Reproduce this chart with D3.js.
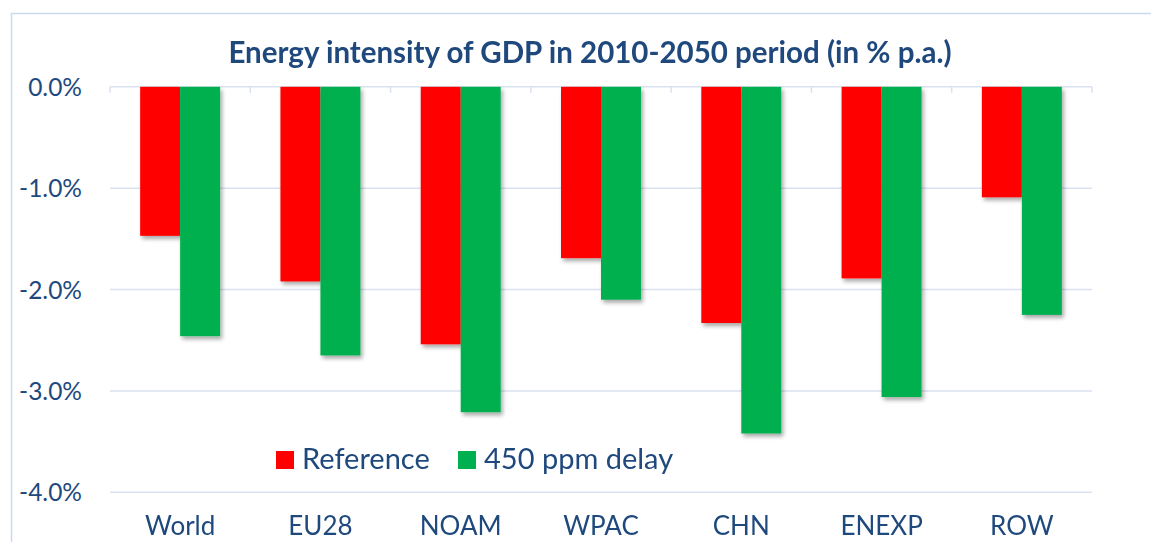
<!DOCTYPE html>
<html>
<head>
<meta charset="utf-8">
<script src="https://cdn.jsdelivr.net/npm/d3@7"></script>
<style>
  html, body { margin: 0; padding: 0; background: #ffffff; }
  svg { display: block; }
  text { font-family: Lato, "Open Sans", sans-serif; }
</style>
</head>
<body>
<svg id="chart" width="1151" height="542"></svg>
<script>
// Regions and annual change in energy intensity of GDP, 2010-2050 (% p.a.)
const categories = ["World", "EU28", "NOAM", "WPAC", "CHN", "ENEXP", "ROW"];
const seriesNames = ["Reference", "450 ppm delay"];
const referenceValues = [-1.47, -1.92, -2.54, -1.69, -2.33, -1.89, -1.09];
const delayValues = [-2.46, -2.65, -3.21, -2.10, -3.42, -3.06, -2.25];
const yTicks = [0, -1, -2, -3, -4];
const titleText = "Energy intensity of GDP in 2010-2050 period (in % p.a.)";

const colors = { "Reference": "#ff0000", "450 ppm delay": "#00b050" };
const textColor = "#1f497d";
const gridColor = "#d9e2f0";

const svg = d3.select("#chart");
const W = 1151, H = 542;

// chart frame
svg.append("rect")
  .attr("x", 11.5).attr("y", 13.5)
  .attr("width", W + 10).attr("height", H + 10)
  .attr("fill", "#ffffff")
  .attr("stroke", "#c9daf0").attr("stroke-width", 1.5);

// soft shadow under the bars
const defs = svg.append("defs");
const f = defs.append("filter").attr("id", "barShadow")
  .attr("x", "-20%").attr("y", "-10%").attr("width", "150%").attr("height", "130%");
f.append("feGaussianBlur").attr("in", "SourceAlpha").attr("stdDeviation", 2);
f.append("feOffset").attr("dx", 2).attr("dy", 3).attr("result", "off");
f.append("feComponentTransfer").append("feFuncA").attr("type", "linear").attr("slope", 0.35);
const m = f.append("feMerge");
m.append("feMergeNode");
m.append("feMergeNode").attr("in", "SourceGraphic");

const plot = { left: 110, right: 1092, top: 86.8, bottom: 492.3 };

const x = d3.scaleBand()
  .domain(categories)
  .range([plot.left, plot.right])
  .paddingInner(0.43)
  .paddingOuter(0.215);

const xInner = d3.scaleBand()
  .domain(seriesNames)
  .range([0, x.bandwidth()]);

const y = d3.scaleLinear()
  .domain([0, -4])
  .range([plot.top, plot.bottom]);

// horizontal gridlines
svg.append("g")
  .selectAll("line")
  .data(yTicks)
  .join("line")
  .attr("x1", plot.left).attr("x2", plot.right)
  .attr("y1", d => y(d)).attr("y2", d => y(d))
  .attr("stroke", gridColor).attr("stroke-width", 1.5);

// y axis labels (plain hyphen for the sign)
const yAxis = d3.axisLeft(y)
  .tickValues(yTicks)
  .tickSize(0)
  .tickPadding(28)
  .tickFormat(d => d3.format(".1f")(d).replace("\u2212", "-") + "%");
const yg = svg.append("g").attr("transform", `translate(${plot.left},0)`).call(yAxis);
yg.select(".domain").remove();
yg.selectAll("text")
  .attr("fill", textColor)
  .style("font-size", "24.5px")
  .attr("dy", "0.35em");

// category axis at zero with boundary tick marks
const boundaries = categories.map(c => x(c) - x.step() * x.paddingInner() / 2)
  .concat([plot.right]);
svg.append("g")
  .selectAll("line")
  .data(boundaries)
  .join("line")
  .attr("x1", d => d).attr("x2", d => d)
  .attr("y1", y(0)).attr("y2", y(0) + 6)
  .attr("stroke", gridColor).attr("stroke-width", 1.5);

// bars
const groups = svg.append("g").attr("filter", "url(#barShadow)")
  .selectAll("g")
  .data(categories.map((c, i) => ({ c, vals: [referenceValues[i], delayValues[i]] })))
  .join("g")
  .attr("transform", d => `translate(${x(d.c)},0)`);

groups.selectAll("rect")
  .data(d => d.vals.map((v, j) => ({ name: seriesNames[j], v })))
  .join("rect")
  .attr("x", d => xInner(d.name))
  .attr("width", xInner.bandwidth())
  .attr("y", y(0))
  .attr("height", d => y(d.v) - y(0))
  .attr("fill", d => colors[d.name]);

// category labels below the plot
svg.append("g")
  .selectAll("text")
  .data(categories)
  .join("text")
  .attr("x", d => x(d) + x.bandwidth() / 2)
  .attr("y", 535)
  .attr("text-anchor", "middle")
  .attr("fill", textColor)
  .style("font-size", "26px")
  .text(d => d);

// title
svg.append("text")
  .attr("x", 590).attr("y", 63)
  .attr("text-anchor", "middle")
  .attr("fill", textColor)
  .style("font-size", "29.5px")
  .style("font-weight", "bold")
  .text(titleText);

// legend
const legendX = [276, 458];
const lg = svg.append("g")
  .selectAll("g")
  .data(seriesNames)
  .join("g")
  .attr("transform", (d, i) => `translate(${legendX[i]},451)`);
lg.append("rect")
  .attr("width", 18).attr("height", 18)
  .attr("fill", d => colors[d]);
lg.append("text")
  .attr("x", 26).attr("y", 18)
  .attr("fill", textColor)
  .style("font-size", "29px")
  .text(d => d);
</script>
</body>
</html>
